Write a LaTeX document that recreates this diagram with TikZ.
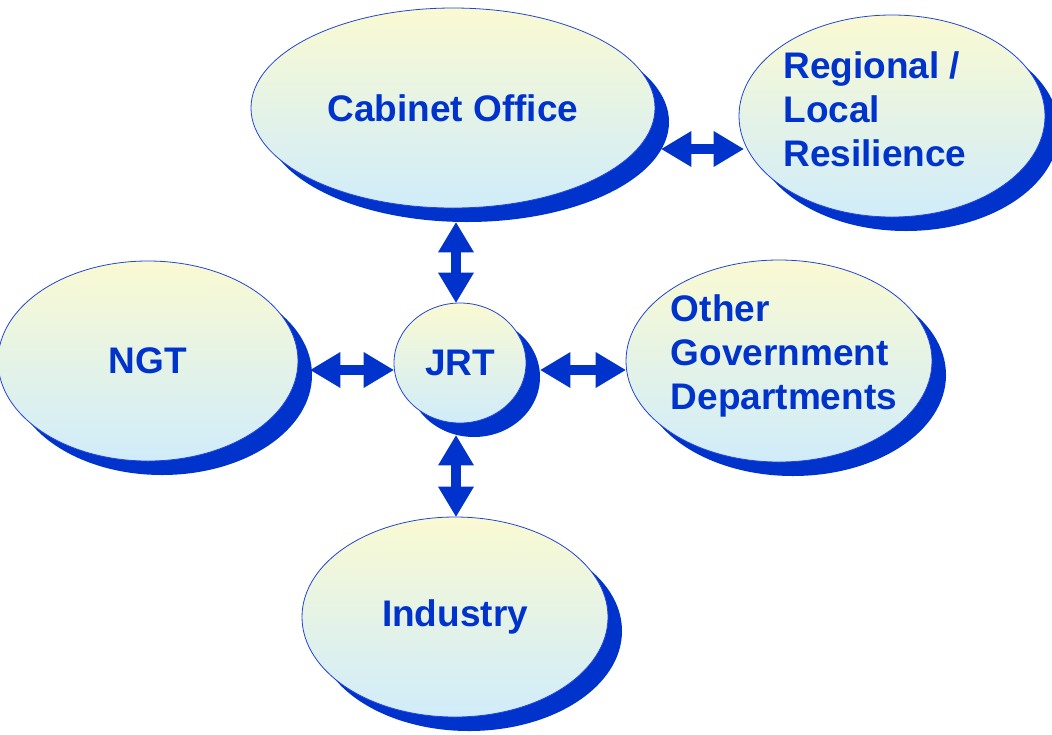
\documentclass[tikz,border=0pt]{standalone}
\usepackage{fontspec}
\setmainfont{Liberation Sans}
\usetikzlibrary{arrows.meta,shapes.geometric,shadows}
\definecolor{tiefblau}{HTML}{0033CC}
\definecolor{randblau}{HTML}{2244DD}
\definecolor{oben}{HTML}{FAFAD2}
\definecolor{unten}{HTML}{D0ECFA}
\tikzset{
blase/.style={ellipse, draw=randblau, line width=0.8pt, top color=oben, bottom color=unten, inner sep=0pt,
	general shadow={fill=tiefblau, shadow xshift=14pt, shadow yshift=-14pt}},
schrift/.style={text=tiefblau, font=\fontsize{37}{44}\selectfont\bfseries},
spitze/.style={Triangle[length=30pt,width=36pt,line width=0pt]},
pfeil/.style={draw=tiefblau, line width=10pt, {Triangle[length=30pt,width=36pt,line width=0pt]}-{Triangle[length=30pt,width=36pt,line width=0pt]}}
}
\begin{document}
\begin{tikzpicture}[x=1pt,y=-1pt]
\useasboundingbox (0,0) rectangle (1052,734);

%Ellipsen
\foreach \n/\x/\y/\rx/\ry/\t in
{
cab/453/108/202/100/Cabinet Office,
reg/892/116/153/101/{},
ngt/148/361/150/100/NGT,
jrt/460/363/66/60/JRT,
ogd/779/361/153/101/{},
ind/455/617/153/100/Industry
}
{
	\node[blase, schrift, minimum width={2*\rx*1pt}, minimum height={2*\ry*1pt}] (\n) at (\x,\y) {\t};
}

%Texte
\node[schrift, align=left] (regtxt) at ([xshift=-17pt,yshift=7pt]reg.center) {Regional /\\Local\\Resilience};
\node[schrift, align=left] (ogdtxt) at ([xshift=5pt,yshift=5pt]ogd.center) {Other\\Government\\Departments};

%Pfeile
\draw[pfeil] ([xshift=6pt,yshift=-41pt]cab.east) -- ([xshift=5pt,yshift=-33pt]reg.west);
\draw[pfeil] ([xshift=3pt,yshift=-14pt]cab.south) -- ([xshift=-4pt]jrt.north);
\draw[pfeil] ([xshift=12pt,yshift=-9pt]ngt.east) -- ([yshift=-7pt]jrt.west);
\draw[pfeil] ([xshift=14pt,yshift=-7pt]jrt.east) -- ([yshift=-9pt]ogd.west);
\draw[pfeil] ([xshift=-4pt,yshift=-12pt]jrt.south) -- ([xshift=1pt]ind.north);

\end{tikzpicture}
\end{document}
